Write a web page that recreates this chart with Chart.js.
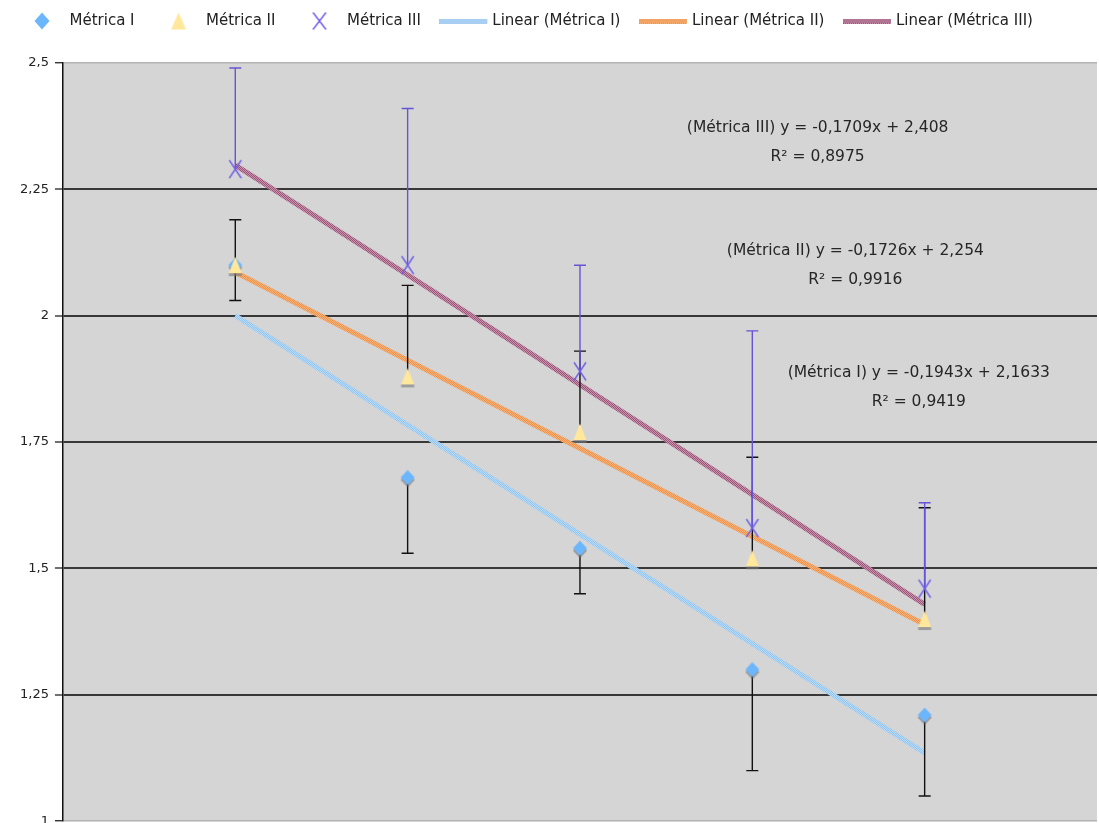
<!DOCTYPE html>
<html><head><meta charset="utf-8">
<script src="https://cdn.jsdelivr.net/npm/chart.js@4.4.0/dist/chart.umd.min.js"></script>
<style>
html,body{margin:0;padding:0;background:#fff;overflow:hidden;width:1099px;height:823px;}
#wrap{position:absolute;left:0;top:0;width:1106px;height:835px;}
</style></head><body>
<div id="wrap"><canvas id="c"></canvas></div>
<script>
// ---- data ----
const categories = [1, 2, 3, 4, 5];
const metricaI   = [2.10, 1.68, 1.54, 1.30, 1.21];
const metricaII  = [2.10, 1.88, 1.77, 1.52, 1.40];
const metricaIII = [2.29, 2.10, 1.89, 1.58, 1.46];
const errLowI    = [2.03, 1.53, 1.45, 1.10, 1.05];
const errHighII  = [2.19, 2.06, 1.93, 1.72, 1.62];
const errHighIII = [2.49, 2.41, 2.10, 1.97, 1.63];
const trendX     = [1, 5];
const trendI     = [2.000, 1.135];
const trendII    = [2.086, 1.389];
const trendIII   = [2.298, 1.429];
const yTicks      = [1, 1.25, 1.5, 1.75, 2, 2.25, 2.5];
const yTickLabels = ['1', '1,25', '1,5', '1,75', '2', '2,25', '2,5'];
const seriesNames = ['Métrica I', 'Métrica II', 'Métrica III',
  'Linear (Métrica I)', 'Linear (Métrica II)', 'Linear (Métrica III)'];
const eqTexts = [
  ['(Métrica I) y = -0,1943x + 2,1633', 'R² = 0,9419'],
  ['(Métrica II) y = -0,1726x + 2,254', 'R² = 0,9916'],
  ['(Métrica III) y = -0,1709x + 2,408', 'R² = 0,8975']
];

// ---- styles ----
const FONT = 'DejaVu Sans';
Chart.defaults.font.family = FONT;

function mk(w, h, fn) { const c = document.createElement('canvas'); c.width = w; c.height = h; fn(c.getContext('2d')); return c; }
function pattern(c1, c2) {
  const p = mk(2, 2, g => { g.fillStyle = c1; g.fillRect(0,0,2,2); g.fillStyle = c2; g.fillRect(1,0,1,1); g.fillRect(0,1,1,1); });
  return document.createElement('canvas').getContext('2d').createPattern(p, 'repeat');
}
const patBlue = pattern('#8fc3f0', '#bddcf6');
const patOrange = pattern('#ee9048', '#f6b680');
const patMauve = pattern('#9a5277', '#c994ad');

function diamond(g, cx, cy, hw, hh, col) { g.fillStyle = col; g.beginPath(); g.moveTo(cx, cy-hh); g.lineTo(cx+hw, cy); g.lineTo(cx, cy+hh); g.lineTo(cx-hw, cy); g.closePath(); g.fill(); }
function tri(g, cx, top, bot, hw, col) { g.fillStyle = col; g.beginPath(); g.moveTo(cx, top); g.lineTo(cx+hw, bot); g.lineTo(cx-hw, bot); g.closePath(); g.fill(); }
function cross(g, x0, y0, x1, y1, col, lw) { g.strokeStyle = col; g.lineWidth = lw; g.beginPath(); g.moveTo(x0,y0); g.lineTo(x1,y1); g.moveTo(x1,y0); g.lineTo(x0,y1); g.stroke(); }

const C_DIA = '#6cb6fc', C_TRI = '#ffe79c', C_X = '#6e5ce6';
const imgDia = mk(16, 26, g => { diamond(g, 8, 15.5, 7, 7.5, 'rgba(105,105,105,0.55)'); diamond(g, 8, 13, 7, 7.5, C_DIA); });
const imgTri = mk(16, 26, g => { g.fillStyle = 'rgba(120,120,120,0.6)'; g.fillRect(1.5, 21, 13, 3); tri(g, 8, 4.5, 21, 6.5, C_TRI); });
const imgX = mk(16, 22, g => cross(g, 2, 2, 14, 20, C_X, 1.4));
const legDia = mk(16, 18, g => diamond(g, 8, 9, 7.5, 8.5, C_DIA));
const legTri = mk(16, 18, g => tri(g, 8, 0.5, 17.5, 7.5, C_TRI));
const legX = mk(16, 18, g => cross(g, 1.5, 0.5, 14.5, 17.5, C_X, 1.4));
const legLine = p => mk(51, 5, g => { g.fillStyle = p; g.fillRect(0, 0, 48, 5); });
const legendImgs = [legDia, legTri, legX, legLine(patBlue), legLine(patOrange), legLine(patMauve)];

const pts = arr => categories.map((x, i) => ({x, y: arr[i]}));
const tpts = arr => trendX.map((x, i) => ({x, y: arr[i]}));

// ---- plugins ----
const bgPlugin = { id: 'bg', beforeDraw(chart) {
  const a = chart.chartArea, g = chart.ctx; g.save(); g.fillStyle = '#d5d5d5';
  g.fillRect(a.left, a.top, a.right - a.left, a.bottom - a.top); g.restore();
  if (chart.legend) { chart.legend.left = -2; chart.legend.top = -10.5; }
} };

const errSets = [
  {vals: metricaI, ends: errLowI, color: '#111'},
  {vals: metricaII, ends: errHighII, color: '#111'},
  {vals: metricaIII, ends: errHighIII, color: '#6654d6'}
];
function drawErrors(chart) {
  const g = chart.ctx, xs = chart.scales.x, ys = chart.scales.y;
  g.save(); g.lineWidth = 1.4;
  errSets.forEach(s => {
    g.strokeStyle = s.color;
    categories.forEach((c, i) => {
      const x = xs.getPixelForValue(c), y0 = ys.getPixelForValue(s.vals[i]), y1 = ys.getPixelForValue(s.ends[i]);
      g.beginPath(); g.moveTo(x, y0); g.lineTo(x, y1); g.moveTo(x - 6, y1); g.lineTo(x + 6, y1); g.stroke();
    });
  });
  g.restore();
}
const errPlugin = { id: 'err', afterDatasetDraw(chart, args) { if (args.index === 3) drawErrors(chart); } };

const eqAnchors = [{x: 4.966, y: 1.859}, {x: 4.598, y: 2.100}, {x: 4.379, y: 2.342}];
const annoPlugin = { id: 'anno', afterDraw(chart) {
  const g = chart.ctx, xs = chart.scales.x, ys = chart.scales.y;
  g.save(); g.font = '15.5px "' + FONT + '"'; g.fillStyle = '#262626'; g.textAlign = 'center'; g.textBaseline = 'middle';
  eqTexts.forEach((t, i) => {
    const x = xs.getPixelForValue(eqAnchors[i].x), y = ys.getPixelForValue(eqAnchors[i].y);
    g.fillText(t[0], x, y - 14.5); g.fillText(t[1], x, y + 14.5);
  });
  g.restore(); } };

const legendSpace = { id: 'legendSpace', beforeInit(chart) {
  const orig = chart.legend.fit; chart.legend.fit = function () { orig.bind(chart.legend)(); this.height += 14; }; } };

new Chart(document.getElementById('c'), {
  type: 'scatter',
  data: { datasets: [
    {label: seriesNames[0], data: pts(metricaI), pointStyle: imgDia, pointRadius: 8, order: 3},
    {label: seriesNames[1], data: pts(metricaII), pointStyle: imgTri, pointRadius: 8, order: 2},
    {label: seriesNames[2], data: pts(metricaIII), pointStyle: imgX, pointRadius: 8, order: 1},
    {type: 'line', label: seriesNames[3], data: tpts(trendI), borderColor: patBlue, borderWidth: 5, pointRadius: 0, order: 5, borderCapStyle: 'butt'},
    {type: 'line', label: seriesNames[4], data: tpts(trendII), borderColor: patOrange, borderWidth: 5, pointRadius: 0, order: 5, borderCapStyle: 'butt'},
    {type: 'line', label: seriesNames[5], data: tpts(trendIII), borderColor: patMauve, borderWidth: 5, pointRadius: 0, order: 5, borderCapStyle: 'butt'}
  ]},
  options: {
    responsive: true, maintainAspectRatio: false, animation: false,
    events: [],
    layout: { padding: { left: 14, top: 0, right: 0, bottom: 0 } },
    plugins: {
      tooltip: { enabled: false },
      legend: {
        position: 'top', align: 'start',
        labels: {
          usePointStyle: true, pointStyleWidth: 40, padding: 24,
          color: '#222', font: { family: FONT, size: 15 },
          generateLabels: () => seriesNames.map((n, i) => ({ text: n, pointStyle: legendImgs[i], datasetIndex: i, hidden: false, fillStyle: 'rgba(0,0,0,0)', strokeStyle: 'rgba(0,0,0,0)', lineWidth: 0, fontColor: '#222' }))
        }
      }
    },
    scales: {
      x: { type: 'linear', min: 0, max: 6, display: false },
      y: {
        min: 1, max: 2.5,
        afterBuildTicks: ax => { ax.ticks = yTicks.map(v => ({value: v})); },
        ticks: { padding: 6, color: '#222', font: { family: FONT, size: 13 },
          callback: v => yTickLabels[yTicks.indexOf(v)] },
        grid: { color: c => (c.tick && (c.tick.value === 2.5 || c.tick.value === 1)) ? '#b4b4b4' : '#383838',
          lineWidth: c => (c.tick && (c.tick.value === 2.5 || c.tick.value === 1)) ? 1.5 : 2,
          tickColor: '#111', tickLength: 8, tickWidth: 1.2 },
        border: { color: '#111', width: 1.5 }
      }
    }
  },
  plugins: [bgPlugin, errPlugin, annoPlugin, legendSpace]
});
</script>
</body></html>
